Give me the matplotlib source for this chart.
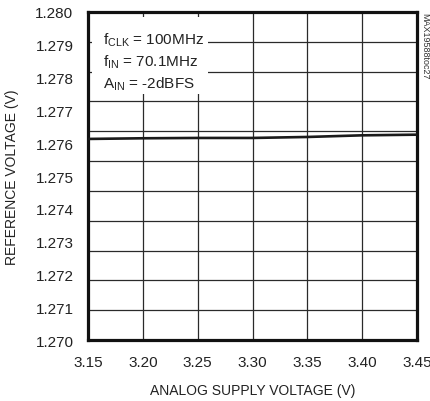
import numpy as np
import matplotlib
matplotlib.use('Agg')
import matplotlib.pyplot as plt
from matplotlib.patches import Rectangle

plt.rcParams['font.family'] = ['Liberation Sans', 'DejaVu Sans']
plt.rcParams['mathtext.fontset'] = 'custom'
plt.rcParams['mathtext.rm'] = 'Liberation Sans'

# reference voltage vs analog supply
avdd = [3.15, 3.20, 3.25, 3.30, 3.35, 3.40, 3.45]
vref = [1.27613, 1.27615, 1.27616, 1.27616, 1.27619, 1.27624, 1.27626]

xticks = [3.15, 3.20, 3.25, 3.30, 3.35, 3.40, 3.45]
yticks = [1.270, 1.271, 1.272, 1.273, 1.274, 1.275, 1.276, 1.277, 1.278, 1.279, 1.280]
n_hgrid = 11  # horizontal grid has 11 divisions, labels only 10

fig = plt.figure(figsize=(4.31, 4.02), dpi=100)
ax = fig.add_axes([0.2042, 0.1517, 0.7633, 0.816])

ax.set_xlim(3.15, 3.45)
ax.set_ylim(1.270, 1.280)

ax.set_xticks(xticks)
ax.set_xticklabels(['%.2f' % v for v in xticks])
ax.set_yticks(yticks)
ax.set_yticklabels(['%.3f' % v for v in yticks])
ax.set_yticks(np.linspace(1.270, 1.280, n_hgrid + 1)[1:-1], minor=True)
ax.tick_params(which='both', length=0, labelsize=11, colors='#222222')
ax.tick_params(axis='y', pad=10.5)
ax.tick_params(axis='x', pad=11)

ax.grid(True, axis='x', which='major', color='#2a2a2a', lw=0.9)
ax.grid(True, axis='y', which='minor', color='#2a2a2a', lw=0.9)
ax.grid(False, axis='y', which='major')

for s in ax.spines.values():
    s.set_linewidth(2.3)
    s.set_color('#111111')

ax.plot(avdd, vref, color='#1a1a1a', lw=1.9, zorder=3)

# white backing for the conditions block
ax.add_patch(Rectangle((0.012, 0.75), 0.352, 0.235, transform=ax.transAxes,
                       facecolor='white', edgecolor='none', zorder=2))
conds = [r'f$_{\mathrm{CLK}}$ = 100MHz',
         r'f$_{\mathrm{IN}}$ = 70.1MHz',
         r'A$_{\mathrm{IN}}$ = -2dBFS']
for i, t in enumerate(conds):
    ax.text(0.045, 0.945 - i * 0.068, t, transform=ax.transAxes, fontsize=11,
            va='top', ha='left', color='#222222', zorder=4)

ax.set_xlabel('ANALOG SUPPLY VOLTAGE (V)', fontsize=10, color='#222222', labelpad=10)
ax.set_ylabel('REFERENCE VOLTAGE (V)', fontsize=10, color='#222222', labelpad=12)

fig.text(0.985, 0.968, 'MAX19588toc27', rotation=-90, fontsize=6.5,
         color='#333333', ha='center', va='top')

fig.savefig('out.png', dpi=100)
